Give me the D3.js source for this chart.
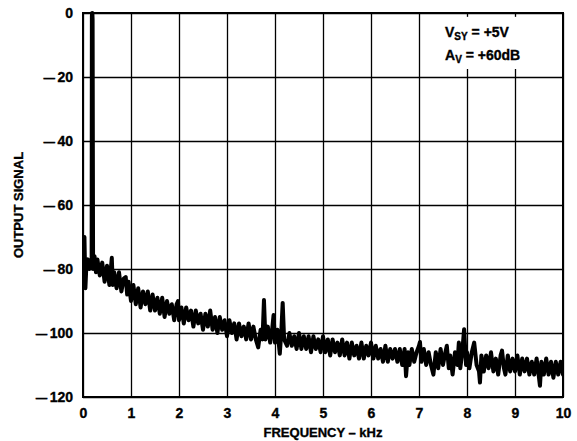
<!DOCTYPE html>
<html>
<head>
<meta charset="utf-8">
<script src="https://cdn.jsdelivr.net/npm/d3@7"></script>
<style>
  html, body { margin: 0; padding: 0; background: #fff; }
  svg { display: block; }
  text { font-family: "Liberation Sans", Arial, Helvetica, sans-serif; font-weight: bold; fill: #000; stroke: #000; stroke-width: 0.35px; }
</style>
</head>
<body>
<svg id="chart" width="577" height="441"></svg>
<script>
// ---- data ----
const xTicks = [0, 1, 2, 3, 4, 5, 6, 7, 8, 9, 10];
const yTicks = [0, -20, -40, -60, -80, -100, -120];
const xTitle = "FREQUENCY – kHz";
const yTitle = "OUTPUT SIGNAL";

const freqKHz = [
  0.00, 0.02, 0.03, 0.04, 0.05, 0.07, 0.10, 0.13, 0.16, 0.18, 0.185, 0.19, 0.195, 0.20, 0.21, 0.24, 0.27,
  0.30, 0.35, 0.40, 0.45, 0.50, 0.55, 0.58, 0.60, 0.62, 0.65, 0.70, 0.75, 0.80, 0.85, 0.89, 0.92, 0.95,
  1.00, 1.05, 1.10, 1.15, 1.20, 1.25, 1.30, 1.35, 1.40, 1.45, 1.50, 1.55, 1.60, 1.65, 1.70, 1.75, 1.80,
  1.85, 1.90, 1.95, 1.98, 2.00, 2.05, 2.10, 2.15, 2.20, 2.25, 2.30, 2.35, 2.40, 2.45, 2.50, 2.55, 2.60,
  2.65, 2.70, 2.75, 2.80, 2.85, 2.90, 2.95, 3.00, 3.05, 3.10, 3.15, 3.20, 3.25, 3.30, 3.35, 3.40, 3.45,
  3.50, 3.55, 3.60, 3.65, 3.70, 3.74, 3.77, 3.80, 3.85, 3.90, 3.94, 3.97, 4.00, 4.05, 4.10, 4.13, 4.16,
  4.19, 4.25, 4.30, 4.35, 4.40, 4.45, 4.50, 4.55, 4.60, 4.65, 4.70, 4.75, 4.80, 4.85, 4.90, 4.95, 5.00,
  5.05, 5.10, 5.15, 5.20, 5.25, 5.30, 5.35, 5.40, 5.45, 5.50, 5.55, 5.60, 5.65, 5.70, 5.75, 5.80, 5.85,
  5.90, 5.95, 6.00, 6.05, 6.10, 6.15, 6.20, 6.25, 6.30, 6.35, 6.40, 6.45, 6.50, 6.55, 6.60, 6.65, 6.70,
  6.73, 6.77, 6.80, 6.85, 6.90, 6.95, 7.00, 7.02, 7.05, 7.10, 7.15, 7.20, 7.25, 7.30, 7.35, 7.40, 7.45,
  7.50, 7.55, 7.58, 7.62, 7.65, 7.70, 7.75, 7.80, 7.83, 7.86, 7.90, 7.94, 7.98, 8.00, 8.05, 8.10, 8.15,
  8.20, 8.25, 8.27, 8.30, 8.35, 8.40, 8.45, 8.50, 8.55, 8.60, 8.65, 8.70, 8.73, 8.77, 8.80, 8.85, 8.90,
  8.95, 9.00, 9.05, 9.10, 9.15, 9.20, 9.25, 9.30, 9.35, 9.40, 9.45, 9.50, 9.52, 9.55, 9.60, 9.65, 9.70,
  9.75, 9.80, 9.85, 9.90, 9.95, 10.00
];

const outputDb = [
  -79, -77, -70, -78, -86, -79, -77, -80, -78, -79, -1, 0, 0, -2, -80, -76, -81,
  -77, -82, -78, -84, -79, -85, -80, -76.5, -85, -81, -86, -81, -87, -83, -82.5, -88, -84,
  -90, -85, -91, -86, -92, -87, -91, -87, -93, -88, -93, -89, -94, -89, -95, -90, -94,
  -91, -96, -91, -90, -96, -92, -97, -92, -96, -93, -98, -93, -97, -94, -99, -94, -98,
  -93, -99, -95, -100, -95, -99, -96, -101, -96, -100, -97, -102, -97, -101, -98, -102, -97,
  -102, -98, -102, -104.5, -99, -102, -89.7, -102, -98, -103, -99, -94.4, -103, -99, -106.5, -100, -90.6,
  -102, -104, -100, -104, -101, -105, -100, -105, -101, -105, -101, -106, -101, -105, -102, -106, -101,
  -106, -102, -107, -102, -106, -103, -107, -102, -107, -103, -108, -103, -107, -104, -108, -103, -108,
  -104, -107, -103, -108, -104, -108, -105, -109, -104, -109, -105, -108, -105, -109, -105, -110, -105,
  -113.5, -106, -110, -105, -109, -106, -104, -102.8, -109, -105, -110, -106, -110, -113, -106, -111, -105,
  -110, -106, -104, -111, -107, -113, -106, -110, -103, -111, -106, -98.8, -110, -106, -111, -106, -103,
  -110, -112, -115.5, -107, -112, -107, -111, -106, -112, -108, -113, -107, -105.5, -111, -113, -107, -112,
  -108, -112, -107, -113, -108, -112, -108, -113, -109, -113, -108, -114, -116.5, -109, -113, -108, -113,
  -109, -114, -109, -113, -109, -113
];

const legendLines = [
  { main: "V", sub: "SY", rest: " = +5V" },
  { main: "A", sub: "V", rest: " = +60dB" }
];

// ---- chart ----
const svg = d3.select("#chart");
const plot = { left: 83, right: 563, top: 13, bottom: 397 };

const x = d3.scaleLinear().domain([0, 10]).range([plot.left, plot.right]);
const y = d3.scaleLinear().domain([-120, 0]).range([plot.bottom, plot.top]);

// grid lines
const grid = svg.append("g");
grid.append("g")
  .attr("transform", `translate(0,${plot.bottom})`)
  .call(d3.axisBottom(x).tickValues(xTicks).tickSize(-(plot.bottom - plot.top)).tickFormat(""))
  .call(g => g.select(".domain").remove())
  .call(g => g.selectAll("line").attr("stroke", "#000").attr("stroke-width", 1.3));
grid.append("g")
  .attr("transform", `translate(${plot.left},0)`)
  .call(d3.axisLeft(y).tickValues(yTicks).tickSize(-(plot.right - plot.left)).tickFormat(""))
  .call(g => g.select(".domain").remove())
  .call(g => g.selectAll("line").attr("stroke", "#000").attr("stroke-width", 1.3));

// legend background box (hides grid lines behind the text)
svg.append("rect")
  .attr("x", x(7.4)).attr("y", y(-1.2))
  .attr("width", x(9.4) - x(7.4)).attr("height", y(-17.5) - y(-1.2))
  .attr("fill", "#fff");

// trace
svg.append("clipPath").attr("id", "clip")
  .append("rect")
  .attr("x", plot.left).attr("y", plot.top - 3)
  .attr("width", plot.right - plot.left).attr("height", plot.bottom - plot.top + 3);

const line = d3.line()
  .x((d, i) => x(freqKHz[i]))
  .y(d => y(d));

svg.append("path")
  .datum(outputDb)
  .attr("clip-path", "url(#clip)")
  .attr("d", line)
  .attr("fill", "none")
  .attr("stroke", "#000")
  .attr("stroke-width", 4)
  .attr("stroke-linejoin", "round")
  .attr("stroke-linecap", "round");

// frame
svg.append("rect")
  .attr("x", plot.left).attr("y", plot.top)
  .attr("width", plot.right - plot.left).attr("height", plot.bottom - plot.top)
  .attr("fill", "none").attr("stroke", "#000").attr("stroke-width", 2);

// tick labels
svg.append("g")
  .attr("transform", `translate(0,${plot.bottom})`)
  .call(d3.axisBottom(x).tickValues(xTicks).tickSize(0).tickPadding(11).tickFormat(d => String(d)))
  .call(g => g.select(".domain").remove())
  .call(g => g.selectAll("text").attr("font-size", 14).attr("font-family", null).attr("fill", "#000"));
svg.append("g")
  .attr("transform", `translate(${plot.left},0)`)
  .call(d3.axisLeft(y).tickValues(yTicks).tickSize(0).tickPadding(10).tickFormat(d => String(d)))
  .call(g => g.select(".domain").remove())
  .call(g => g.selectAll("text")
    .attr("font-size", 14).attr("font-family", null).attr("fill", "#000")
    .each(function(d) {
      const t = d3.select(this).text("");
      if (d < 0) {
        t.append("tspan").attr("font-size", 11.5).text("\u2014");
        t.append("tspan").attr("dx", 2.5).text(String(Math.abs(d)));
      } else {
        t.append("tspan").text(String(d));
      }
    }));

// axis titles
svg.append("text")
  .attr("x", (plot.left + plot.right) / 2).attr("y", 437)
  .attr("text-anchor", "middle").attr("font-size", 13)
  .text(xTitle);
svg.append("text")
  .attr("transform", `translate(23,${(plot.top + plot.bottom) / 2}) rotate(-90)`)
  .attr("text-anchor", "middle").attr("font-size", 13)
  .text(yTitle);

// legend text
const leg = svg.append("g");
legendLines.forEach((l, i) => {
  const t = leg.append("text")
    .attr("x", 445).attr("y", 37 + i * 23)
    .attr("font-size", 14);
  t.append("tspan").text(l.main);
  t.append("tspan").attr("font-size", 10).attr("dy", 3).text(l.sub);
  t.append("tspan").attr("dy", -3).text(l.rest);
});
</script>
</body>
</html>
